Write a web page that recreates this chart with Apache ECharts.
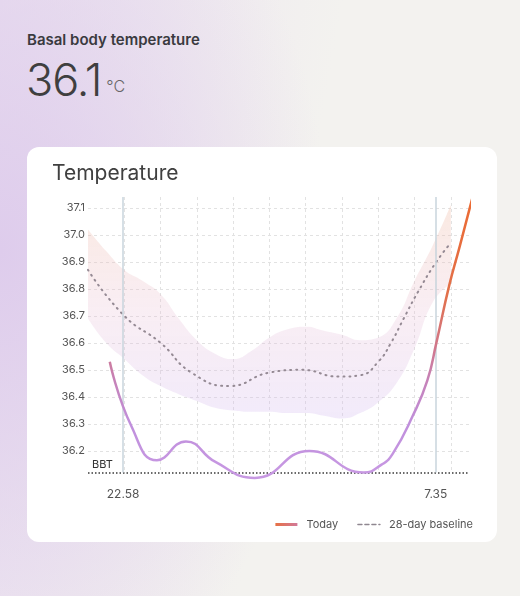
<!DOCTYPE html>
<html>
<head>
<meta charset="utf-8">
<script src="https://cdn.jsdelivr.net/npm/echarts@6.0.0/dist/echarts.min.js"></script>
<style>
  body {
    margin: 0; width: 520px; height: 596px; overflow: hidden; position: relative;
    font-family: Inter, "Noto Sans", sans-serif;
    background:
      radial-gradient(ellipse 330px 470px at 0% 42%, rgba(222,204,236,1) 0%, rgba(222,204,236,0) 100%),
      linear-gradient(100deg, #ebe1f0 0%, #f3f2ef 55%);
  }
  #label { position: absolute; left: 27px; top: 30px; font-size: 15px; font-weight: 600; color: #3a3a3f; }
  #value { position: absolute; left: 26px; top: 52px; font-size: 45px; font-weight: 300; color: #3f3f3f; letter-spacing: -1px; }
  #unit { font-size: 16px; color: #666; margin-left: 5px; letter-spacing: 0; position: relative; top: -4px; }
  #card { position: absolute; left: 27px; top: 147px; width: 470px; height: 395px; background: #fff; border-radius: 12px; }
  #main { width: 470px; height: 395px; }
</style>
</head>
<body>
<div id="label">Basal body temperature</div>
<div id="value"><span id="cur"></span><span id="unit">°C</span></div>
<div id="card"><div id="main"></div></div>
<script>
    // current reading
    var currentTemp = '36.1';

    // x values are hours after 22:00
    var bandX = [0, 0.5, 1, 1.5, 2, 2.5, 3, 3.5, 4, 4.5, 5, 5.5, 6, 6.5, 7, 7.5, 8, 8.5, 9, 9.5, 10];
    var bandUpper = [37.02, 36.94, 36.87, 36.83, 36.78, 36.69, 36.61, 36.56, 36.54, 36.57, 36.62, 36.65, 36.66, 36.645, 36.63, 36.61, 36.62, 36.69, 36.83, 36.96, 37.11];
    var bandLower = [36.69, 36.60, 36.54, 36.48, 36.44, 36.41, 36.385, 36.36, 36.35, 36.345, 36.345, 36.34, 36.34, 36.33, 36.32, 36.34, 36.38, 36.45, 36.58, 36.75, 36.82];

    var baselineX = [0, 1, 2, 2.85, 3.9, 5.0, 5.9, 6.9, 7.5, 8.0, 8.35, 8.7, 9.1, 9.6, 10];
    var baselineY = [36.87, 36.70, 36.60, 36.49, 36.44, 36.49, 36.50, 36.475, 36.48, 36.53, 36.60, 36.69, 36.79, 36.90, 36.97];

    var todayX = [0.6, 1.2, 1.9, 2.7, 3.5, 4.6, 6.1, 7.6, 8.1, 8.4, 8.95, 9.35, 9.6, 9.95, 10.25, 10.6];
    var todayY = [36.53, 36.29, 36.165, 36.235, 36.16, 36.10, 36.20, 36.12, 36.15, 36.19, 36.33, 36.46, 36.60, 36.81, 36.96, 37.14];

    var markerTimes = ['22.58', '7.35'];
    var bbtValue = 36.12;
    var yTop = 37.14;

    document.getElementById('cur').textContent = currentTemp;

    function toHours(t) {
        var p = t.split('.');
        var h = parseInt(p[0]) + parseInt(p[1]) / 60;
        if (h < 22) h += 24;
        return h - 22;
    }

    function pairs(xs, ys) {
        return xs.map(function (x, i) { return [x, ys[i]]; });
    }

    var myChart = echarts.init(document.getElementById('main'));

    var gridLine = { show: true, lineStyle: { color: '#e2e2e2', type: [3, 3], width: 1 }, showMinLine: false, showMaxLine: false };

    var markData = [
        {
            yAxis: bbtValue,
            lineStyle: { color: '#3a3a3a', type: [1.5, 2], width: 1.5 },
            label: { show: true, position: 'insideStartTop', formatter: 'BBT', color: '#333', fontSize: 11, distance: [4, 2] }
        }
    ];
    markerTimes.forEach(function (t) {
        var h = toHours(t);
        markData.push([
            {
                coord: [h, bbtValue],
                lineStyle: { color: '#c9d5dc', type: 'solid', width: 1.5 },
                label: { show: true, position: 'start', formatter: t, color: '#555', fontSize: 12, distance: 16 }
            },
            { coord: [h, yTop] }
        ]);
    });

    // band: value first so the stack adds on y, not on x
    var bandStyle = {
        type: 'line', stack: 'band', smooth: true, symbol: 'none', silent: true,
        encode: { x: 1, y: 0 },
        lineStyle: { opacity: 0 }
    };

    var option = {
        animation: false,
        textStyle: { fontFamily: 'Inter' },
        title: {
            text: 'Temperature',
            left: 20, top: 11,
            textStyle: { fontSize: 21, fontWeight: 'normal', color: '#404040', fontFamily: 'Inter' }
        },
        legend: {
            right: 19, top: 367,
            itemWidth: 22, itemHeight: 10, itemGap: 19,
            itemStyle: { opacity: 0 },
            textStyle: { fontSize: 11, color: '#555', padding: [0, 0, 0, 4] },
            data: [
                { name: 'Today', lineStyle: { width: 3, color: new echarts.graphic.LinearGradient(0, 0, 1, 0, [
                    { offset: 0, color: '#e8703f' }, { offset: 1, color: '#d07aa0' }]) } },
                { name: '28-day baseline', lineStyle: { width: 1.5, type: [4, 3], color: '#8f8790' } }
            ]
        },
        grid: { left: 61, top: 50, right: 28, bottom: 69.5 },
        xAxis: {
            type: 'value', min: 0, max: 10.5, interval: 1,
            axisLine: { show: false }, axisTick: { show: false }, axisLabel: { show: false },
            splitLine: gridLine
        },
        yAxis: {
            type: 'value', min: bbtValue, max: yTop, minInterval: 0.1, maxInterval: 0.1,
            axisLine: { show: false }, axisTick: { show: false },
            axisLabel: {
                color: '#555', fontSize: 11, margin: 3, showMinLabel: false, showMaxLabel: false,
                formatter: function (v) { return v.toFixed(1); }
            },
            splitLine: gridLine
        },
        series: [
            Object.assign({}, bandStyle, {
                name: 'bandLow',
                data: bandX.map(function (x, i) { return [bandLower[i], x]; })
            }),
            Object.assign({}, bandStyle, {
                name: 'bandHigh',
                areaStyle: {
                    color: new echarts.graphic.LinearGradient(0, 0, 0, 1, [
                        { offset: 0, color: 'rgba(240, 185, 160, 0.45)' },
                        { offset: 0.5, color: 'rgba(232, 190, 212, 0.38)' },
                        { offset: 1, color: 'rgba(210, 185, 240, 0.42)' }
                    ])
                },
                data: bandX.map(function (x, i) { return [+(bandUpper[i] - bandLower[i]).toFixed(3), x]; })
            }),
            {
                name: '28-day baseline', type: 'line', smooth: true, symbol: 'none',
                lineStyle: { color: '#958a94', width: 2, type: [1, 5], cap: 'round' },
                data: pairs(baselineX, baselineY)
            },
            {
                name: 'Today', type: 'line', smooth: true, symbol: 'none', clip: false, z: 5,
                lineStyle: {
                    width: 2.5,
                    color: new echarts.graphic.LinearGradient(0, 0, 0, 1, [
                        { offset: 0, color: '#ec6a32' },
                        { offset: 0.35, color: '#e2704a' },
                        { offset: 0.52, color: '#d27686' },
                        { offset: 0.65, color: '#c682b8' },
                        { offset: 0.8, color: '#c08fdc' },
                        { offset: 1, color: '#c899e3' }
                    ])
                },
                data: pairs(todayX, todayY),
                markLine: { silent: true, symbol: 'none', animation: false, data: markData }
            }
        ]
    };

    myChart.setOption(option);
</script>
</body>
</html>
